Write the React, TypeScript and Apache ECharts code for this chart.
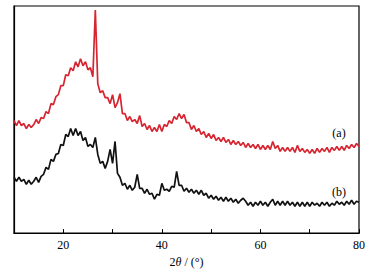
import React, { useEffect, useRef } from "react";
import * as echarts from "echarts";

// 2θ grid: 10° to 80° in 0.5° steps
const ANGLE_START = 10;
const ANGLE_STEP = 0.5;

// Sample (a), red
const intensityA = [
  113, 108, 113, 108, 110, 105, 109, 106, 109, 114,
  110, 116, 115, 122, 120, 130, 129, 137, 139, 148,
  148, 159, 158, 166, 163, 172, 167, 175, 168, 172,
  164, 166, 157, 224, 150, 141, 143, 136, 136, 130,
  139, 126, 131, 140, 120, 120, 113, 117, 112, 114,
  110, 118, 107, 110, 104, 108, 102, 106, 102, 109,
  102, 109, 107, 113, 110, 117, 114, 120, 115, 119,
  111, 111, 104, 108, 102, 105, 99, 102, 96, 100,
  95, 99, 93, 96, 92, 96, 91, 94, 89, 93,
  89, 92, 88, 91, 86, 90, 86, 89, 85, 89,
  84, 88, 84, 88, 84, 92, 85, 88, 82, 86,
  82, 86, 82, 86, 81, 88, 82, 85, 81, 84,
  80, 84, 80, 85, 81, 85, 82, 86, 81, 86,
  83, 87, 83, 87, 83, 88, 85, 89, 86, 90,
  87,
];

// Sample (b), black
const intensityB = [
  56, 52, 56, 52, 54, 49, 53, 49, 52, 56,
  51, 57, 59, 66, 64, 74, 72, 79, 80, 89,
  88, 99, 97, 105, 98, 105, 98, 102, 93, 96,
  87, 89, 86, 96, 79, 70, 72, 65, 72, 84,
  70, 92, 60, 56, 48, 50, 44, 48, 43, 46,
  59, 45, 45, 40, 44, 39, 40, 34, 39, 38,
  50, 43, 44, 42, 47, 46, 62, 48, 48, 42,
  45, 41, 44, 40, 43, 39, 43, 38, 40, 35,
  38, 34, 37, 33, 36, 32, 36, 32, 35, 31,
  34, 30, 33, 35, 32, 28, 31, 27, 31, 28,
  32, 28, 31, 27, 31, 34, 28, 32, 28, 32,
  28, 32, 28, 31, 27, 31, 27, 31, 27, 31,
  27, 31, 28, 30, 27, 31, 28, 31, 27, 30,
  28, 32, 29, 31, 28, 32, 29, 33, 29, 32,
  31,
];

const xTickLabels = ["20", "40", "60", "80"];
const seriesLabels = ["(a)", "(b)"];

const toPairs = (vals: number[]) =>
  vals.map((v, i) => [ANGLE_START + i * ANGLE_STEP, v]);

export default function App() {
  const ref = useRef<HTMLDivElement>(null);
  useEffect(() => {
    document.body.style.margin = "0";
    if (!ref.current) return;
    const chart = echarts.init(ref.current, null, { renderer: "svg" });
    const serif = "'Liberation Serif', 'Times New Roman', serif";
    chart.setOption({
      animation: false,
      backgroundColor: "#ffffff",
      grid: {
        left: 14,
        right: 20,
        top: 6,
        bottom: 39,
        show: true,
        borderColor: "#000",
        borderWidth: 1.2,
        backgroundColor: "transparent",
      },
      xAxis: {
        type: "value",
        min: 10,
        max: 80,
        interval: 10,
        position: "bottom",
        axisLine: { show: true, onZero: false, lineStyle: { color: "#000", width: 1.2 } },
        axisTick: { show: true, inside: true, length: 4, lineStyle: { color: "#000", width: 1 } },
        splitLine: { show: false },
        axisLabel: {
          color: "#000",
          fontFamily: serif,
          fontSize: 12,
          margin: 6,
          formatter: (v: number) =>
            xTickLabels.includes(String(v)) ? String(v) : "",
        },
        name: "{a|2}{b|θ}{a| / (°)}",
        nameLocation: "middle",
        nameGap: 19,
        nameTextStyle: {
          rich: {
            a: { fontFamily: serif, fontSize: 12, color: "#000" },
            b: { fontFamily: serif, fontSize: 12, color: "#000", fontStyle: "italic" },
          },
        },
      },
      yAxis: {
        type: "value",
        min: 0,
        max: 228,
        position: "left",
        axisLine: { show: true, onZero: false, lineStyle: { color: "#000", width: 1.2 } },
        axisTick: { show: false },
        axisLabel: { show: false },
        splitLine: { show: false },
      },
      series: [
        {
          name: seriesLabels[0],
          type: "line",
          data: toPairs(intensityA),
          showSymbol: false,
          lineStyle: { color: "#d62530", width: 1.7 },
          itemStyle: { color: "#d62530" },
        },
        {
          name: seriesLabels[1],
          type: "line",
          data: toPairs(intensityB),
          showSymbol: false,
          lineStyle: { color: "#111111", width: 1.7 },
          itemStyle: { color: "#111111" },
        },
      ],
      graphic: [
        {
          type: "text",
          x: 339,
          y: 133,
          style: {
            text: seriesLabels[0],
            font: `12px ${serif}`,
            fill: "#000",
            textAlign: "center",
            textVerticalAlign: "middle",
          },
        },
        {
          type: "text",
          x: 339,
          y: 192,
          style: {
            text: seriesLabels[1],
            font: `12px ${serif}`,
            fill: "#000",
            textAlign: "center",
            textVerticalAlign: "middle",
          },
        },
      ],
    });
    return () => chart.dispose();
  }, []);
  return <div ref={ref} style={{ width: 379, height: 273 }} />;
}
